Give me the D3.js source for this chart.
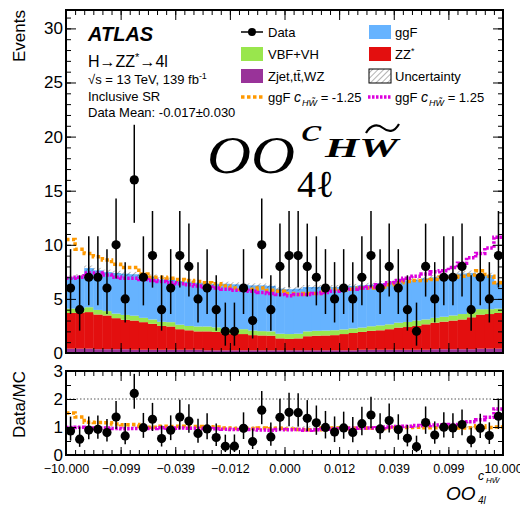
<!DOCTYPE html>
<html>
<head>
<meta charset="utf-8">
<script src="https://cdn.jsdelivr.net/npm/d3@7"></script>
<style>
  body { margin: 0; background: #fff; }
</style>
</head>
<body>
<div id="chart"></div>
<script>
// Data: 48 bins of the optimal observable
const dataCounts = [6,4,7,7,6,10,5,16,7,9,4,6,9,8,5,6,4,2,2,6,3,10,4,8,9,9,8,7,6,5,6,5,7,9,6,8,6,4,2,8,5,7,7,8,4,7,5,9];

// MC stack layers (per bin)
const zjet = [0.4,0.4,0.4,0.35,0.35,0.35,0.35,0.3,0.3,0.3,0.3,0.3,0.3,0.3,0.3,0.25,0.25,0.25,0.25,0.25,0.25,0.25,0.25,0.25,0.25,0.25,0.25,0.25,0.25,0.25,0.25,0.25,0.3,0.3,0.3,0.3,0.3,0.3,0.3,0.3,0.35,0.35,0.35,0.35,0.35,0.4,0.4,0.4];
const zz = [3.3,3.3,3.38,3.21,3.12,2.87,2.72,2.7,2.55,2.4,2.2,2.15,1.9,1.8,1.7,1.75,1.7,1.55,1.5,1.5,1.4,1.37,1.35,1.1,1.05,1.1,1.3,1.35,1.37,1.4,1.5,1.6,1.65,1.75,1.8,1.9,2.05,2.1,2.2,2.35,2.45,2.55,2.65,2.75,2.95,3.15,3.2,3.3];
const vbf = [0.4,0.4,0.45,0.42,0.4,0.42,0.45,0.45,0.4,0.4,0.38,0.4,0.42,0.4,0.45,0.45,0.42,0.44,0.45,0.45,0.42,0.4,0.4,0.43,0.45,0.43,0.45,0.45,0.45,0.45,0.43,0.42,0.4,0.42,0.45,0.45,0.45,0.47,0.5,0.45,0.45,0.45,0.47,0.5,0.5,0.5,0.45,0.4];
const ggf = [2.9,2.98,3.62,3.66,3.61,3.75,3.81,3.83,3.93,3.95,3.92,3.93,4.03,4.1,4.05,4.0,4.03,4.16,4.15,4.1,4.18,4.23,4.2,4.17,4.15,4.17,4.1,4.05,4.03,4.0,4.02,3.93,3.9,3.83,3.9,3.85,3.8,3.83,3.75,3.8,3.75,3.7,3.78,3.75,3.6,3.25,3.15,2.4];

// total prediction with ggF reweighted to c_HWtilde = -1.25 / +1.25
const ggfMinus = [10.5,9.6,9.2,8.9,8.6,8.2,7.9,7.9,7.3,7.0,7.0,6.9,6.8,6.7,6.6,6.5,6.4,6.2,6.0,5.9,5.9,6.0,5.8,5.7,5.5,5.4,5.5,5.5,5.9,5.9,5.8,5.9,6.0,6.0,6.1,6.3,6.5,6.6,6.7,6.7,6.8,7.0,7.0,7.1,7.2,7.6,7.1,6.5];
const ggfPlus = [6.9,7.0,7.4,7.4,7.2,7.0,6.9,6.9,6.8,6.7,6.6,6.5,6.4,6.3,6.2,6.1,6.0,5.9,5.8,5.8,5.7,5.6,5.5,5.4,5.3,5.4,5.4,5.5,5.6,5.7,5.8,5.9,6.0,6.1,6.3,6.5,6.7,6.9,7.1,7.3,7.5,7.6,7.9,8.3,8.8,9.2,9.7,10.7];

const relUnc = 0.03;
const xTickLabels = ["\u221210.000","\u22120.099","\u22120.039","\u22120.012","0.000","0.012","0.039","0.099","10.000"];
const yTicksTop = [0,5,10,15,20,25,30];
const yTicksRatio = [0,1,2,3];

const nBins = dataCounts.length;
const W = 520, H = 506;
const left = 66, right = 503;
const topY0 = 10, topY1 = 353;
const ratY0 = 371, ratY1 = 455;
const SANS = "Liberation Sans, Arial, sans-serif";
const SERIF = "Liberation Serif, Times New Roman, serif";

const svg = d3.select("#chart").append("svg")
    .attr("width", W).attr("height", H)
    .attr("font-family", SANS);

const defs = svg.append("defs");
const hatch = defs.append("pattern")
    .attr("id", "hatch").attr("width", 4).attr("height", 4)
    .attr("patternUnits", "userSpaceOnUse")
    .attr("patternTransform", "rotate(45)");
hatch.append("line").attr("x1", 0).attr("y1", 0).attr("x2", 0).attr("y2", 4)
    .attr("stroke", "#000").attr("stroke-width", 0.6);
defs.append("clipPath").attr("id", "clipTop").append("rect")
    .attr("x", left).attr("y", topY0).attr("width", right - left).attr("height", topY1 - topY0);
defs.append("clipPath").attr("id", "clipRat").append("rect")
    .attr("x", left).attr("y", ratY0).attr("width", right - left).attr("height", ratY1 - ratY0);

// Scales
const x = d3.scaleLinear().domain([0, nBins]).range([left, right]);
const y = d3.scaleLinear().domain([0, 31.7]).range([topY1, topY0]);
const yr = d3.scaleLinear().domain([0, 3]).range([ratY1, ratY0]);

// Stack
const rows = d3.range(nBins).map(i => ({ i, zjet: zjet[i], zz: zz[i], vbf: vbf[i], ggf: ggf[i] }));
const keys = ["zjet", "zz", "vbf", "ggf"];
const colors = { zjet: "#993399", zz: "#e30f0f", vbf: "#99e64d", ggf: "#66b3ff" };
const series = d3.stack().keys(keys)(rows);
const total = rows.map(r => r.zjet + r.zz + r.vbf + r.ggf);

const gTop = svg.append("g").attr("clip-path", "url(#clipTop)");
series.forEach(s => {
    gTop.selectAll(null).data(s).enter().append("rect")
        .attr("x", d => x(d.data.i))
        .attr("width", x(1) - x(0) + 0.4)
        .attr("y", d => y(d[1]))
        .attr("height", d => y(d[0]) - y(d[1]))
        .attr("fill", colors[s.key]);
});

// uncertainty band
gTop.selectAll(null).data(total).enter().append("rect")
    .attr("x", (d, i) => x(i)).attr("width", x(1) - x(0))
    .attr("y", d => y(d * (1 + relUnc)))
    .attr("height", d => y(d * (1 - relUnc)) - y(d * (1 + relUnc)))
    .attr("fill", "url(#hatch)");

function stepPath(vals, yScale) {
    const pts = vals.map((v, i) => [i, v]);
    pts.push([vals.length, vals[vals.length - 1]]);
    return d3.line().x(d => x(d[0])).y(d => yScale(d[1])).curve(d3.curveStepAfter)(pts);
}

const orange = "#ff9900", magenta = "#dd00dd";
gTop.append("path").attr("d", stepPath(ggfMinus, y)).attr("fill", "none")
    .attr("stroke", orange).attr("stroke-width", 3.5).attr("stroke-dasharray", "3.5,2.5");
gTop.append("path").attr("d", stepPath(ggfPlus, y)).attr("fill", "none")
    .attr("stroke", magenta).attr("stroke-width", 3.5).attr("stroke-dasharray", "2.5,1.5");

// Poisson-like asymmetric errors for data
const errLo = dataCounts.map(n => n - Math.sqrt(n - 0.25));
const errHi = dataCounts.map(n => n + 1 + Math.sqrt(n + 0.75));

const gData = svg.append("g").attr("clip-path", "url(#clipTop)");
gData.selectAll(null).data(dataCounts).enter().append("line")
    .attr("x1", (d, i) => x(i + 0.5)).attr("x2", (d, i) => x(i + 0.5))
    .attr("y1", (d, i) => y(errLo[i])).attr("y2", (d, i) => y(errHi[i]))
    .attr("stroke", "#000").attr("stroke-width", 1.5);
gData.selectAll(null).data(dataCounts).enter().append("circle")
    .attr("cx", (d, i) => x(i + 0.5)).attr("cy", d => y(d)).attr("r", 4.6)
    .attr("fill", "#000");

// Ratio panel
const gRat = svg.append("g").attr("clip-path", "url(#clipRat)");
gRat.append("line").attr("x1", left).attr("x2", right)
    .attr("y1", yr(2)).attr("y2", yr(2))
    .attr("stroke", "#555").attr("stroke-width", 1).attr("stroke-dasharray", "1.5,2");
gRat.selectAll(null).data(total).enter().append("rect")
    .attr("x", (d, i) => x(i)).attr("width", x(1) - x(0))
    .attr("y", yr(1 + relUnc)).attr("height", yr(1 - relUnc) - yr(1 + relUnc))
    .attr("fill", "url(#hatch)");
gRat.append("path").attr("d", stepPath(ggfMinus.map((v, i) => v / total[i]), yr)).attr("fill", "none")
    .attr("stroke", orange).attr("stroke-width", 3.5).attr("stroke-dasharray", "3.5,2.5");
gRat.append("path").attr("d", stepPath(ggfPlus.map((v, i) => v / total[i]), yr)).attr("fill", "none")
    .attr("stroke", magenta).attr("stroke-width", 3.5).attr("stroke-dasharray", "2.5,1.5");
gRat.selectAll(null).data(dataCounts).enter().append("line")
    .attr("x1", (d, i) => x(i + 0.5)).attr("x2", (d, i) => x(i + 0.5))
    .attr("y1", (d, i) => yr(errLo[i] / total[i])).attr("y2", (d, i) => yr(errHi[i] / total[i]))
    .attr("stroke", "#000").attr("stroke-width", 1.5);
gRat.selectAll(null).data(dataCounts).enter().append("circle")
    .attr("cx", (d, i) => x(i + 0.5)).attr("cy", (d, i) => yr(d / total[i])).attr("r", 4.6)
    .attr("fill", "#000");

// Axes (ticks pointing inward)
function addAxis(axis, transform, fontSize) {
    const g = svg.append("g").attr("transform", transform).call(axis);
    g.attr("font-family", SANS);
    g.select(".domain").remove();
    g.selectAll("line").attr("stroke", "#000").attr("stroke-width", 1);
    g.selectAll("text").attr("font-size", fontSize).attr("fill", "#000");
    return g;
}
const majX = d3.range(0, nBins + 1, 6), minX = d3.range(0, nBins + 1);
[[topY0, d3.axisTop], [topY1, d3.axisBottom], [ratY0, d3.axisTop]].forEach(([yy, ax]) => {
    addAxis(ax(x).tickValues(minX).tickSize(-5).tickFormat(""), `translate(0,${yy})`, 0);
    addAxis(ax(x).tickValues(majX).tickSize(-10).tickFormat(""), `translate(0,${yy})`, 0);
});
addAxis(d3.axisBottom(x).tickValues(minX).tickSize(-5).tickFormat(""), `translate(0,${ratY1})`, 0);
addAxis(d3.axisBottom(x).tickValues(majX).tickSize(-8).tickPadding(9)
    .tickFormat((d, i) => xTickLabels[i]), `translate(0,${ratY1})`, 12.5);

const fmtInt = d3.format("d");
addAxis(d3.axisLeft(y).tickValues(d3.range(0, 32)).tickSize(-5).tickFormat(""), `translate(${left},0)`, 0);
addAxis(d3.axisLeft(y).tickValues(yTicksTop).tickSize(-10).tickPadding(3).tickFormat(fmtInt), `translate(${left},0)`, 17);
addAxis(d3.axisRight(y).tickValues(d3.range(0, 32)).tickSize(-5).tickFormat(""), `translate(${right},0)`, 0);
addAxis(d3.axisRight(y).tickValues(yTicksTop).tickSize(-10).tickFormat(""), `translate(${right},0)`, 0);

addAxis(d3.axisLeft(yr).tickValues(d3.range(0, 3.01, 0.5)).tickSize(-5).tickFormat(""), `translate(${left},0)`, 0);
addAxis(d3.axisLeft(yr).tickValues(yTicksRatio).tickSize(-10).tickPadding(3).tickFormat(fmtInt), `translate(${left},0)`, 17);
addAxis(d3.axisRight(yr).tickValues(d3.range(0, 3.01, 0.5)).tickSize(-5).tickFormat(""), `translate(${right},0)`, 0);
addAxis(d3.axisRight(yr).tickValues(yTicksRatio).tickSize(-10).tickFormat(""), `translate(${right},0)`, 0);

// Frames
svg.append("rect").attr("x", left).attr("y", topY0).attr("width", right - left).attr("height", topY1 - topY0)
    .attr("fill", "none").attr("stroke", "#000").attr("stroke-width", 2);
svg.append("rect").attr("x", left).attr("y", ratY0).attr("width", right - left).attr("height", ratY1 - ratY0)
    .attr("fill", "none").attr("stroke", "#000").attr("stroke-width", 2);

// Axis titles
svg.append("text").attr("transform", `translate(25,${topY0}) rotate(-90)`)
    .attr("text-anchor", "end").attr("font-size", 17).text("Events");
svg.append("text").attr("transform", `translate(25,${ratY0}) rotate(-90)`)
    .attr("text-anchor", "end").attr("font-size", 17).text("Data/MC");

const xt = svg.append("g").attr("font-style", "italic");
xt.append("text").attr("x", 446).attr("y", 500).attr("font-size", 19).text("OO");
xt.append("text").attr("x", 478).attr("y", 480).attr("font-size", 12).text("c");
xt.append("text").attr("x", 486).attr("y", 483).attr("font-size", 8).text("HW\u0303");
xt.append("text").attr("x", 478).attr("y", 504).attr("font-size", 10).text("4l");

// ATLAS labels
svg.append("text").attr("x", 88).attr("y", 41).attr("font-size", 20)
    .attr("font-weight", "bold").attr("font-style", "italic").text("ATLAS");
const t1 = svg.append("text").attr("x", 88).attr("y", 67).attr("font-size", 16);
t1.append("tspan").text("H\u2192ZZ");
t1.append("tspan").attr("dy", -6).attr("font-size", 11).text("*");
t1.append("tspan").attr("dy", 6).text("\u21924l");
const t2 = svg.append("text").attr("x", 88).attr("y", 84).attr("font-size", 13);
t2.append("tspan").text("\u221As = 13 TeV, 139 fb");
t2.append("tspan").attr("dy", -5).attr("font-size", 9).text("-1");
svg.append("text").attr("x", 88).attr("y", 101).attr("font-size", 13).text("Inclusive SR");
svg.append("text").attr("x", 88).attr("y", 117).attr("font-size", 13).text("Data Mean: -0.017\u00b10.030");

// Big observable label
const big = svg.append("g").attr("font-family", SERIF).attr("font-style", "italic");
big.append("text").attr("x", 207).attr("y", 173).attr("font-size", 53)
    .attr("textLength", 88).attr("lengthAdjust", "spacingAndGlyphs").text("OO");
big.append("text").attr("x", 301).attr("y", 141).attr("font-size", 32)
    .attr("textLength", 21).attr("lengthAdjust", "spacingAndGlyphs").text("c");
big.append("text").attr("x", 325).attr("y", 157).attr("font-size", 27).attr("font-weight", "bold")
    .attr("textLength", 73).attr("lengthAdjust", "spacingAndGlyphs").text("HW");
big.append("path").attr("d", "M366,133 C371,124 378,124 383,128 C388,132 394,133 399,124")
    .attr("fill", "none").attr("stroke", "#000").attr("stroke-width", 2.2);
big.append("text").attr("x", 297).attr("y", 197).attr("font-size", 38).attr("font-style", "normal")
    .text("4\u2113");

// Legend
const lg = svg.append("g").attr("font-size", 13);
function legText(xx, yy, str) { return lg.append("text").attr("x", xx).attr("y", yy + 4.5).text(str); }
function legBox(xx, yy, fill) {
    lg.append("rect").attr("x", xx).attr("y", yy - 7).attr("width", 22).attr("height", 14).attr("fill", fill);
}
// Data
lg.append("line").attr("x1", 241).attr("x2", 263).attr("y1", 32).attr("y2", 32).attr("stroke", "#000").attr("stroke-width", 1.5);
lg.append("circle").attr("cx", 252).attr("cy", 32).attr("r", 4).attr("fill", "#000");
legText(268, 32, "Data");
legBox(369, 32, colors.ggf); legText(395, 32, "ggF");
legBox(241, 54, colors.vbf); legText(268, 54, "VBF+VH");
legBox(369, 54, colors.zz);
const zzT = legText(395, 54, "ZZ");
zzT.append("tspan").attr("dy", -5).attr("font-size", 9).text("*");
legBox(241, 76, colors.zjet); legText(268, 76, "Zjet,tt\u0304,WZ");
lg.append("rect").attr("x", 369).attr("y", 69).attr("width", 22).attr("height", 14)
    .attr("fill", "url(#hatch)").attr("stroke", "#000").attr("stroke-width", 1);
legText(395, 76, "Uncertainty");

function legCurve(xx, yy, value) {
    const t = lg.append("text").attr("x", xx).attr("y", yy + 4.5);
    t.append("tspan").text("ggF ");
    t.append("tspan").attr("font-style", "italic").attr("font-size", 14).text("c");
    t.append("tspan").attr("font-style", "italic").attr("font-size", 9).attr("dy", 4).attr("dx", 1).text("HW\u0303");
    t.append("tspan").attr("dy", -4).text(" = " + value);
}
lg.append("line").attr("x1", 241).attr("x2", 264).attr("y1", 97).attr("y2", 97)
    .attr("stroke", orange).attr("stroke-width", 3.5).attr("stroke-dasharray", "3.5,2.5");
legCurve(268, 97, "-1.25");
lg.append("line").attr("x1", 368).attr("x2", 391).attr("y1", 97).attr("y2", 97)
    .attr("stroke", magenta).attr("stroke-width", 3.5).attr("stroke-dasharray", "2.5,1.5");
legCurve(395, 97, "1.25");
</script>
</body>
</html>
